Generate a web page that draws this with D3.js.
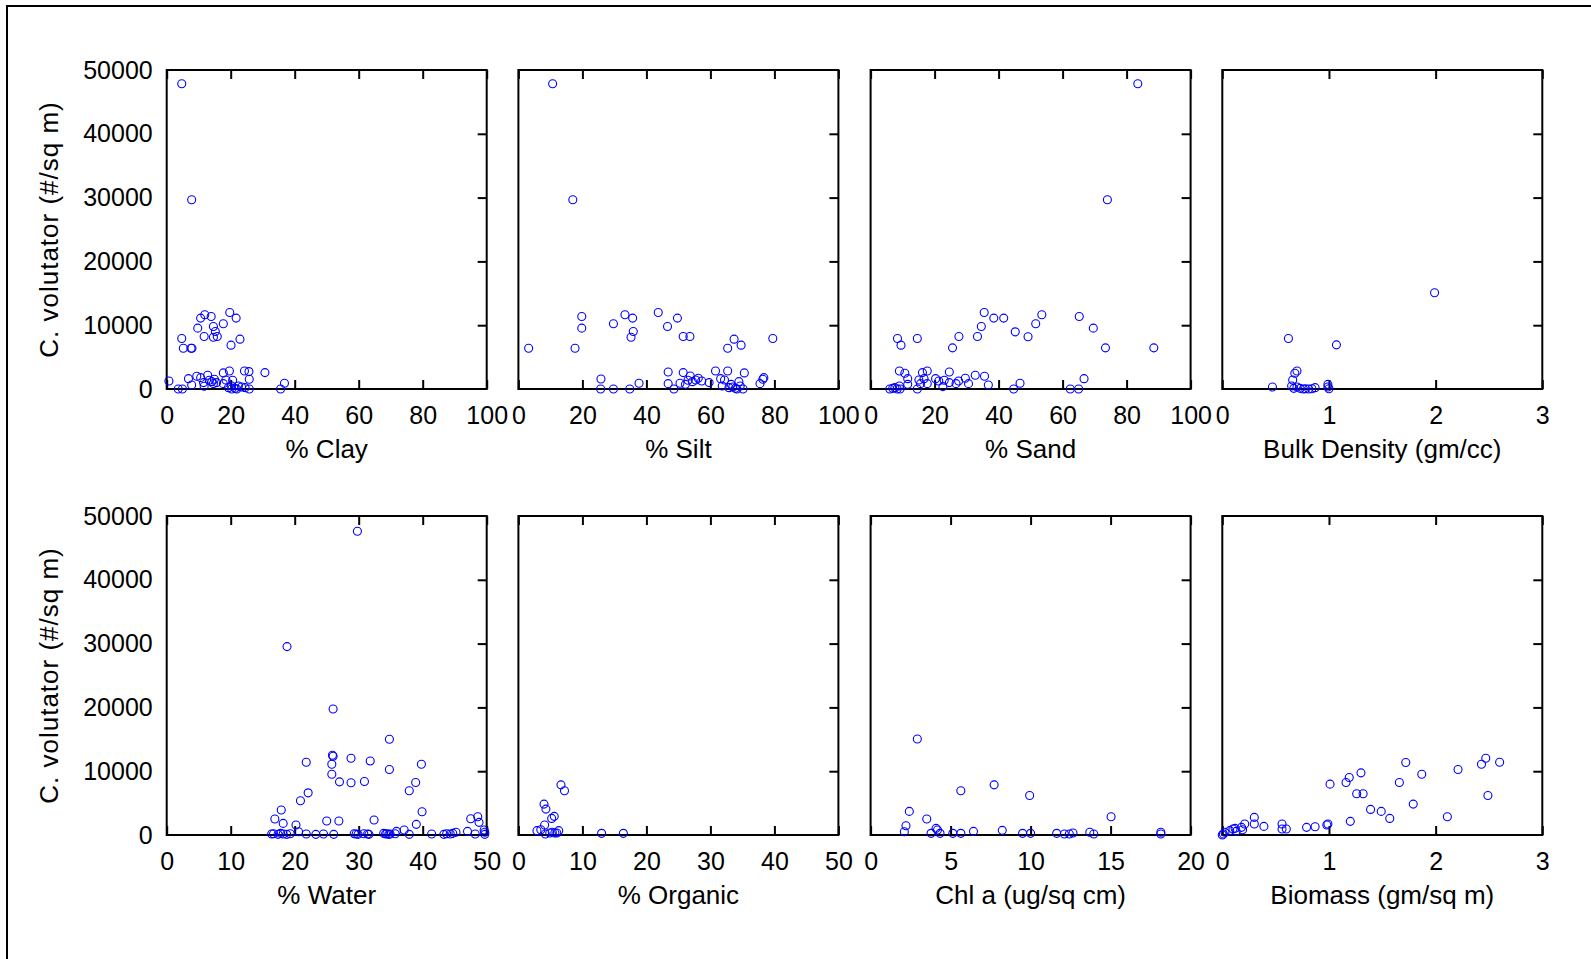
<!DOCTYPE html>
<html>
<head>
<meta charset="utf-8">
<script src="https://cdn.jsdelivr.net/npm/d3@7"></script>
<style>
body{margin:0;background:#fff;overflow:hidden;}
text{font-family:Arial,"Liberation Sans",sans-serif;fill:#000;}
</style>
</head>
<body>
<script>
/* valores: x = variable, y = C. volutator (#/sq m) */
const clayX=[4.7,7.8,0.7,3.6,4.9,4.7,5.2,7.6,7.9,9.7,10.6,11.9,13.9,11.7,14.6,15.2,14.6,15.8,17.7,19.7,21.7,20.1,22.9,6.8,7.8,9.4,10.6,11.5,11.7,12.8,13.3,14.1,14.9,14.6,15.6,17.7,17.7,18.5,19.6,19.3,20.6,20.3,21.4,22.4,23.4,24.5,24.3,25.7,25.8,25.8,30.7,36.8,35.6,21.9,20.3];
const clayY=[47850,29660,1260,0,0,7910,6390,6390,6390,9540,11110,11630,11370,8230,9800,9010,8120,8230,10220,12000,11110,6870,7810,1620,630,1990,1780,1000,420,2150,1360,1150,1520,840,1000,2520,840,1420,2830,210,1360,470,100,470,310,210,2830,2730,1520,0,2570,890,0,0,0];

const siltX=[10.7,17.0,3.2,17.7,19.8,19.8,29.7,33.3,35.7,35.9,35.2,43.7,46.6,49.7,51.5,53.6,65.4,67.4,69.6,79.5,25.8,25.7,29.7,34.8,37.7,46.8,46.8,48.6,50.5,51.5,52.2,53.0,53.7,54.4,55.4,56.2,57.3,59.6,61.6,63.2,63.7,64.4,65.4,65.8,66.5,67.0,67.8,68.3,68.9,69.3,70.2,70.6,75.5,76.4,76.7];
const siltY=[47850,29660,6390,6390,11370,9540,10220,11630,11110,9010,8120,12000,9800,11110,8230,8230,6390,7810,6870,7910,1570,0,0,0,890,2670,840,0,890,2570,730,1360,2040,1150,1420,1680,1260,1000,2830,1620,470,1420,2830,210,730,310,100,0,1150,470,0,2520,840,1520,1780];

const sandX=[83.5,74.0,8.4,9.5,14.6,25.6,27.6,33.4,34.6,35.5,38.5,41.6,45.2,49.2,51.6,53.5,65.2,69.6,73.4,88.5,9.0,10.7,11.6,11.6,6.0,6.9,7.6,8.3,9.0,9.2,14.6,15.1,15.6,16.2,16.7,17.7,17.7,20.3,21.3,22.6,23.0,24.6,24.6,26.7,27.5,29.6,30.6,32.7,35.6,36.8,44.7,46.7,62.4,65.0,66.7];
const sandY=[47850,29660,7910,6870,7910,6450,8230,8230,9800,12000,11110,11110,8960,8180,10220,11630,11370,9540,6450,6450,2830,2460,1620,730,0,100,210,0,470,0,0,1420,840,2570,1620,2830,840,1620,1260,370,1360,2670,1000,840,1260,1680,840,2150,1990,630,0,890,0,0,1620];

const bulkX=[1.99,0.62,1.07,0.70,0.68,0.66,0.47,0.65,0.67,0.70,0.73,0.76,0.78,0.81,0.84,0.87,0.99,0.99,1.00];
const bulkY=[15090,7910,6920,2830,2460,1420,310,470,100,310,100,0,50,0,50,210,730,310,50];

const waterX=[29.8,18.8,26.0,34.8,25.9,26.0,28.8,31.8,21.8,25.8,39.8,34.8,25.8,27.0,28.8,30.9,38.9,37.9,22.1,20.9,17.9,39.9,16.9,18.2,20.2,25.0,26.9,32.4,39.0,47.5,48.6,48.8,49.6,49.7,37.1,35.9,47.0,45.2,20.6,
  16.4,16.7,17.4,17.8,18.2,18.75,19.3,21.8,23.3,24.5,26.1,29.3,29.6,29.9,30.8,31.4,31.6,33.9,34.2,34.4,34.7,34.9,35.7,37.9,41.4,43.3,43.75,44.3,44.7,48.2,49.7];
const waterY=[47600,29530,19740,15000,12500,12340,12030,11610,11410,11090,11090,10260,9530,8330,8180,8390,8230,6930,6610,5360,3910,3650,2500,1820,1560,2190,2190,2340,1670,2550,2860,1980,780,420,780,570,570,420,520,
  150,200,100,250,150,100,200,150,100,150,100,200,150,100,200,150,100,250,150,200,100,150,200,100,150,100,200,150,250,150,100];

const orgX=[6.65,7.2,4.0,4.3,5.6,5.2,4.1,2.9,3.5,4.2,4.9,5.3,5.7,6.0,6.3,13.0,16.4];
const orgY=[7860,6930,4840,4060,2920,2600,1560,680,830,150,310,420,310,310,680,260,260];

const chlX=[2.92,7.72,5.64,9.94,2.42,3.51,2.21,2.11,15.03,4.09,4.18,3.78,4.34,5.14,5.64,6.43,8.23,9.50,10.0,11.63,12.11,12.42,12.65,13.7,13.95,18.14,18.14];
const chlY=[15050,7860,6930,6200,3700,2500,1460,520,2860,1040,780,260,260,260,260,570,730,260,260,260,150,150,310,420,150,420,150];

const bioX=[0.0,0.01,0.025,0.07,0.10,0.12,0.13,0.18,0.19,0.21,0.30,0.30,0.39,0.56,0.56,0.60,0.79,0.87,0.98,0.99,1.01,1.16,1.19,1.30,1.26,1.32,1.20,1.39,1.49,1.57,1.66,1.72,1.79,1.87,2.11,2.21,2.43,2.47,2.49,2.60];
const bioY=[0,150,420,680,940,1040,570,1200,830,1720,2760,1720,1350,1720,940,940,1200,1300,1560,1720,7970,8230,9010,9740,6460,6460,2140,4010,3700,2600,8230,11360,4840,9530,2860,10260,11090,12030,6200,11410];

/* ticks */
const pctTicks=[0,20,40,60,80,100];
const fiftyTicks=[0,10,20,30,40,50];
const chlTicks=[0,5,10,15,20];
const threeTicks=[0,1,2,3];
const yTicks=[0,10000,20000,30000,40000,50000];

const titles=["% Clay","% Silt","% Sand","Bulk Density (gm/cc)","% Water","% Organic","Chl a (ug/sq cm)","Biomass (gm/sq m)"];
const yTitle="C. volutator (#/sq m)";

const paneles=[
  {xs:clayX,ys:clayY,ticks:pctTicks},
  {xs:siltX,ys:siltY,ticks:pctTicks},
  {xs:sandX,ys:sandY,ticks:pctTicks},
  {xs:bulkX,ys:bulkY,ticks:threeTicks},
  {xs:waterX,ys:waterY,ticks:fiftyTicks},
  {xs:orgX,ys:orgY,ticks:fiftyTicks},
  {xs:chlX,ys:chlY,ticks:chlTicks},
  {xs:bioX,ys:bioY,ticks:threeTicks}
];

const W=1591,H=959;
const lefts=[166.7,518.4,870.6,1222.3];
const tops=[70,516];
const pw=320,ph=319;

const svg=d3.select("body").append("svg").attr("width",W).attr("height",H);

/* marco exterior (solo se ven izquierda y arriba) */
svg.append("rect").attr("x",7).attr("y",6).attr("width",W+20).attr("height",H+20)
  .attr("fill","none").attr("stroke","#000").attr("stroke-width",2);

paneles.forEach((p,i)=>{
  const col=i%4,row=Math.floor(i/4);
  const g=svg.append("g").attr("transform","translate("+lefts[col]+","+tops[row]+")");

  const x=d3.scaleLinear().domain([p.ticks[0],p.ticks[p.ticks.length-1]]).range([0,pw]);
  const y=d3.scaleLinear().domain([0,50000]).range([ph,0]);

  // ejes con marcas hacia dentro
  const abajo=g.append("g").attr("transform","translate(0,"+ph+")")
    .call(d3.axisBottom(x).tickValues(p.ticks).tickSize(-9).tickPadding(17).tickFormat(d3.format("d")));
  const arriba=g.append("g")
    .call(d3.axisTop(x).tickValues(p.ticks).tickSize(-9).tickFormat(""));
  const derecha=g.append("g").attr("transform","translate("+pw+",0)")
    .call(d3.axisRight(y).tickValues(yTicks.slice(1,-1)).tickSize(-9).tickFormat(""));
  [abajo,arriba,derecha].forEach(a=>{
    a.select(".domain").remove();
    a.selectAll(".tick line").attr("stroke","#000").attr("stroke-width",2);
  });
  abajo.selectAll("text").style("font-size","25px").attr("fill","#000");

  if(col===0){
    const izq=g.append("g").call(d3.axisLeft(y).tickValues(yTicks).tickSize(0).tickPadding(14).tickFormat(d3.format("d")));
    izq.select(".domain").remove();
    izq.selectAll("text").style("font-size","25px").attr("fill","#000");
    g.append("text").attr("transform","translate("+(58-lefts[0])+","+(ph/2)+") rotate(-90)")
      .attr("text-anchor","middle").style("font-size","26px").style("letter-spacing","1px").text(yTitle);
  }

  // marco del panel
  g.append("rect").attr("width",pw).attr("height",ph)
    .attr("fill","none").attr("stroke","#000").attr("stroke-width",2);

  g.append("text").attr("x",pw/2).attr("y",ph+69).attr("text-anchor","middle")
    .style("font-size","26px").text(titles[i]);

  g.selectAll("circle.pt").data(p.xs.map((d,k)=>[d,p.ys[k]])).enter().append("circle")
    .attr("class","pt").attr("cx",d=>x(d[0])).attr("cy",d=>y(d[1])).attr("r",4)
    .attr("fill","none").attr("stroke","#0000ff").attr("stroke-width",1.1);
});
</script>
</body>
</html>
